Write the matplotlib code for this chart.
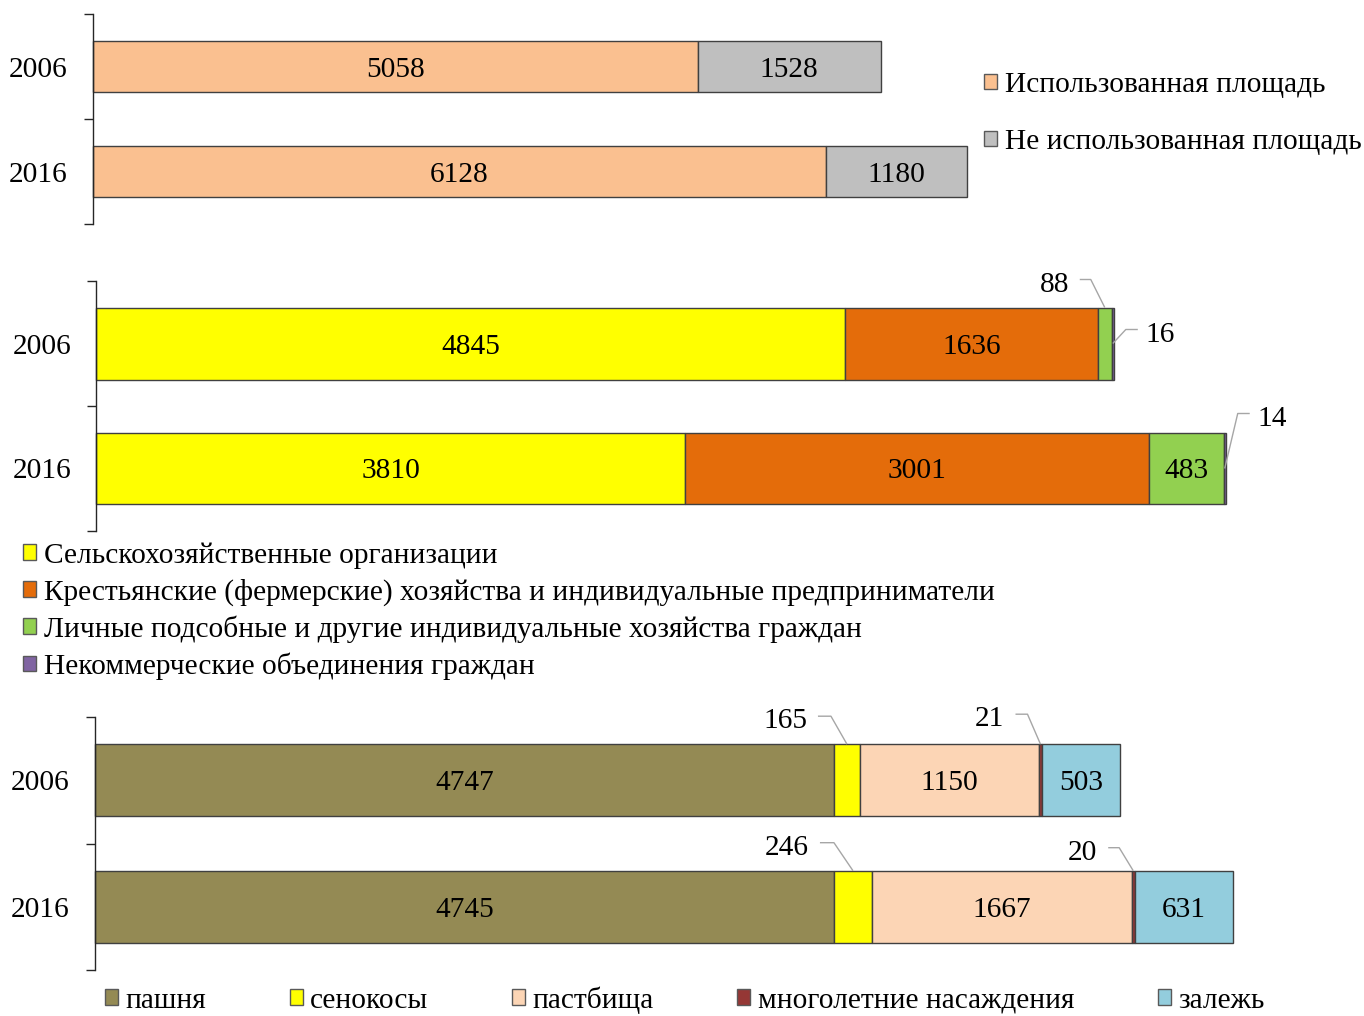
import matplotlib
matplotlib.use("Agg")
import matplotlib.pyplot as plt
from matplotlib.patches import Patch
import numpy as np

plt.rcParams['font.family'] = ['Liberation Serif', 'DejaVu Serif']
FS = 21.2

years = ['2006', '2016']

# Panel 1
p1_labels = ['Использованная площадь', 'Не использованная площадь']
p1_used = [5058, 6128]
p1_unused = [1528, 1180]
p1_colors = ['#FAC090', '#BFBFBF']

# Panel 2
p2_labels = ['Сельскохозяйственные организации',
             'Крестьянские (фермерские) хозяйства и индивидуальные предприниматели',
             'Личные подсобные и другие индивидуальные хозяйства граждан',
             'Некоммерческие объединения граждан']
p2_agro = [4845, 3810]
p2_farm = [1636, 3001]
p2_personal = [88, 483]
p2_noncom = [16, 14]
p2_colors = ['#FFFF00', '#E46C0A', '#92D050', '#8064A2']

# Panel 3
p3_labels = ['пашня', 'сенокосы', 'пастбища', 'многолетние насаждения', 'залежь']
p3_arable = [4747, 4745]
p3_hay = [165, 246]
p3_pasture = [1150, 1667]
p3_perennial = [21, 20]
p3_fallow = [503, 631]
p3_colors = ['#948A54', '#FFFF00', '#FCD5B5', '#953735', '#93CDDD']

W, H = 1364, 1016
DPI = 100
fig = plt.figure(figsize=(W / DPI, H / DPI), dpi=DPI)
EDGE = '#404040'
LEAD = '#A6A6A6'


def make_ax(left, right, top, bottom, scale):
    ax = fig.add_axes([left / W, 1 - bottom / H, (right - left) / W, (bottom - top) / H])
    ax.set_xlim(0, (right - left) / scale)
    ax.set_ylim(1.5, -0.5)
    for s in ['top', 'right', 'bottom']:
        ax.spines[s].set_visible(False)
    ax.spines['left'].set_color('#262626')
    ax.spines['left'].set_linewidth(1.0)
    ax.set_xticks([])
    ax.set_yticks([-0.5, 0.5, 1.5])
    ax.set_yticklabels(['', '', ''])
    ax.tick_params(axis='y', which='major', length=6.5, width=1.0, color='#262626', direction='out')
    ax.set_yticks([0, 1], minor=True)
    ax.set_yticklabels(years, minor=True, fontsize=FS)
    ax.tick_params(axis='y', which='minor', length=0, pad=18.0)
    ax.patch.set_visible(False)
    return ax


def stacked(ax, series, colors, height, show):
    y = np.arange(len(years))
    left = np.zeros(len(years))
    rects = []
    for vals, col, sh in zip(series, colors, show):
        vals = np.array(vals, dtype=float)
        ax.barh(y, vals, left=left, height=height, color=col,
                edgecolor=EDGE, linewidth=1.0, clip_on=False)
        rects.append((left.copy(), vals))
        for i in range(len(years)):
            if sh[i]:
                ax.text(left[i] + vals[i] / 2, y[i], f'{int(vals[i])}', ha='center',
                        va='center_baseline', fontsize=FS, color='black')
        left = left + vals
    return rects


def leader(ax, xd, yd, corner, start, text, tx, ha):
    x0, y0 = ax.transData.transform((xd, yd))
    verts = [(x0, y0), (x0 + corner[0], y0 + corner[1]), (x0 + start[0], y0 + start[1])]
    d = ax.transData.inverted().transform(verts)
    ax.plot(d[:, 0], d[:, 1], color=LEAD, lw=1.0, clip_on=False, solid_capstyle='butt')
    tpos = ax.transData.inverted().transform((x0 + tx, y0 + start[1] - 2))
    ax.text(tpos[0], tpos[1], text, ha=ha, va='center_baseline', fontsize=FS, color='black')


# ---------- Panel 1 ----------
ax1 = make_ax(93, 1000, 14, 224, 0.1196)
stacked(ax1, [p1_used, p1_unused], p1_colors, 0.495, [[True, True], [True, True]])
h1 = [Patch(facecolor=c, edgecolor='#595959', linewidth=1.0) for c in p1_colors]
fig.legend(h1, p1_labels, loc='upper left', bbox_to_anchor=(984 / W, 1 - 72 / H),
           frameon=False, fontsize=FS, borderpad=0, borderaxespad=0,
           handlelength=0.45, handleheight=0.45, handletextpad=0.25, labelspacing=1.05)

# ---------- Panel 2 ----------
ax2 = make_ax(96, 1250, 281, 531, 0.1546)
r2 = stacked(ax2, [p2_agro, p2_farm, p2_personal, p2_noncom], p2_colors, 0.576,
             [[True, True], [True, True], [False, True], [False, False]])
hh2 = 0.576 / 2
l, v = r2[2]
leader(ax2, l[0] + v[0] / 2, 0 - hh2, (-14, 28), (-25, 28), f'{p2_personal[0]}', -35, 'right')
l, v = r2[3]
leader(ax2, l[0] + v[0] / 2, 0, (13, 14), (25, 14), f'{p2_noncom[0]}', 33, 'left')
leader(ax2, l[1] + v[1] / 2, 1, (13, 55), (25, 55), f'{p2_noncom[1]}', 33, 'left')

h2 = [Patch(facecolor=c, edgecolor='#595959', linewidth=1.0) for c in p2_colors]
fig.legend(h2, p2_labels, loc='upper left', bbox_to_anchor=(23 / W, 1 - 542 / H),
           frameon=False, fontsize=FS, borderpad=0, borderaxespad=0,
           handlelength=0.45, handleheight=0.45, handletextpad=0.25, labelspacing=0.33)

# ---------- Panel 3 ----------
ax3 = make_ax(95, 1250, 717, 970, 0.1557)
r3 = stacked(ax3, [p3_arable, p3_hay, p3_pasture, p3_perennial, p3_fallow], p3_colors, 0.57,
             [[True, True], [False, False], [True, True], [False, False], [True, True]])
hh3 = 0.57 / 2
l, v = r3[1]
leader(ax3, l[0] + v[0] / 2, 0 - hh3, (-16, 28), (-29, 28), f'{p3_hay[0]}', -40, 'right')
leader(ax3, l[1] + v[1] / 2, 1 - hh3, (-19, 28), (-33, 28), f'{p3_hay[1]}', -44, 'right')
l, v = r3[3]
leader(ax3, l[0] + v[0] / 2, 0 - hh3, (-13, 30), (-25, 30), f'{p3_perennial[0]}', -36, 'right')
leader(ax3, l[1] + v[1] / 2, 1 - hh3, (-14, 23), (-25, 23), f'{p3_perennial[1]}', -36, 'right')

h3 = [Patch(facecolor=c, edgecolor='#595959', linewidth=1.0) for c in p3_colors]
fig.legend(h3, p3_labels, loc='upper left', bbox_to_anchor=(105 / W, 1 - 986 / H), ncol=5,
           frameon=False, fontsize=FS, borderpad=0, borderaxespad=0,
           handlelength=0.45, handleheight=0.45, handletextpad=0.25, columnspacing=2.83)

fig.savefig('out.png', dpi=DPI)
